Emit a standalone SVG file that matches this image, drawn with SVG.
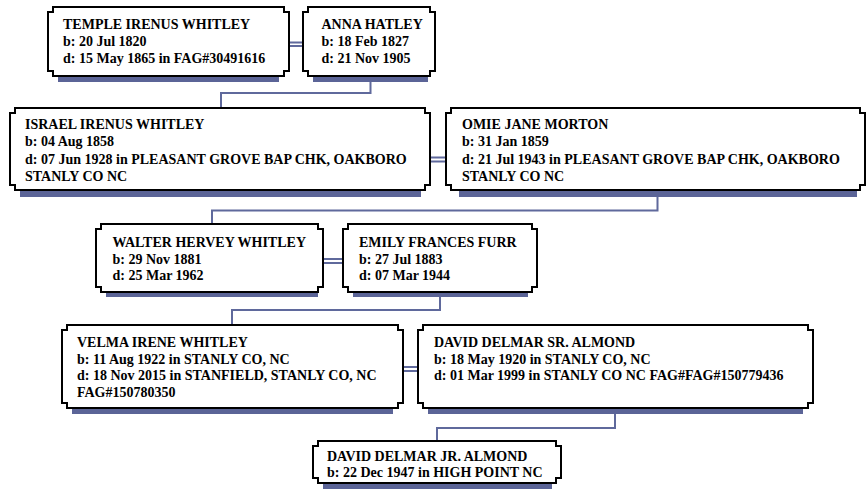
<svg xmlns="http://www.w3.org/2000/svg" width="867" height="493" viewBox="0 0 867 493">
<style>
.shadow{fill:#5b6497}
.box{fill:#fff;stroke:#000;stroke-width:2}
.conn{fill:none;stroke:#5f699c;stroke-width:2}
.marr{fill:none;stroke:#5f699c;stroke-width:1.8}
text{font-family:"Liberation Serif","Times New Roman",serif;font-weight:bold;font-size:14px;fill:#000}
</style>
<rect width="867" height="493" fill="#fff"/>
<g id="connectors">
<polyline class="conn" points="370.5,76 370.5,93 221,93 221,108"/>
<polyline class="conn" points="657.5,190 657.5,210.5 212,210.5 212,224"/>
<polyline class="conn" points="440,292 440,310 232,310 232,325"/>
<polyline class="conn" points="615,408 615,428 437,428 437,441"/>
<path class="marr" d="M289,42.5H303M289,46H303"/>
<path class="marr" d="M430,157.5H446M430,161.5H446"/>
<path class="marr" d="M323,259H343M323,263H343"/>
<path class="marr" d="M403,367H418M403,371H418"/>
</g>
<g id="temple">
<rect class="shadow" x="58" y="74" width="221" height="8"/>
<path class="box" d="M48,12H53V7H284V12H289V71H284V76H53V71H48Z"/>
<text x="63" y="29">TEMPLE IRENUS WHITLEY</text>
<text x="63" y="46">b: 20 Jul 1820</text>
<text x="63" y="63">d: 15 May 1865 in FAG#30491616</text>
</g>
<g id="anna">
<rect class="shadow" x="313" y="74" width="115" height="8"/>
<path class="box" d="M303,12H308V7H430V12H435V71H430V76H308V71H303Z"/>
<text x="321.5" y="29">ANNA HATLEY</text>
<text x="321.5" y="46">b: 18 Feb 1827</text>
<text x="321.5" y="63">d: 21 Nov 1905</text>
</g>
<g id="israel">
<rect class="shadow" x="20" y="188" width="401" height="9"/>
<path class="box" d="M10,113H15V108H425V113H430V185H425V190H15V185H10Z"/>
<text x="25" y="128.5">ISRAEL IRENUS WHITLEY</text>
<text x="25" y="146">b: 04 Aug 1858</text>
<text x="25" y="163.5">d: 07 Jun 1928 in PLEASANT GROVE BAP CHK, OAKBORO</text>
<text x="25" y="181">STANLY CO NC</text>
</g>
<g id="omie">
<rect class="shadow" x="459" y="188" width="398" height="9"/>
<path class="box" d="M446,113H451V108H860V113H865V185H860V190H451V185H446Z"/>
<text x="462" y="128.5">OMIE JANE MORTON</text>
<text x="462" y="146">b: 31 Jan 1859</text>
<text x="462" y="163.5">d: 21 Jul 1943 in PLEASANT GROVE BAP CHK, OAKBORO</text>
<text x="462" y="181">STANLY CO NC</text>
</g>
<g id="walter">
<rect class="shadow" x="106" y="290" width="212" height="7"/>
<path class="box" d="M96,229H101V224H318V229H323V287H318V292H101V287H96Z"/>
<text x="112.5" y="246.5">WALTER HERVEY WHITLEY</text>
<text x="112.5" y="263.5">b: 29 Nov 1881</text>
<text x="112.5" y="280">d: 25 Mar 1962</text>
</g>
<g id="emily">
<rect class="shadow" x="353" y="290" width="175" height="7"/>
<path class="box" d="M343,229H348V224H532V229H537V287H532V292H348V287H343Z"/>
<text x="359" y="246.5">EMILY FRANCES FURR</text>
<text x="359" y="263.5">b: 27 Jul 1883</text>
<text x="359" y="280">d: 07 Mar 1944</text>
</g>
<g id="velma">
<rect class="shadow" x="72" y="406" width="321" height="8"/>
<path class="box" d="M62,330H67V325H398V330H403V403H398V408H67V403H62Z"/>
<text x="77" y="347">VELMA IRENE WHITLEY</text>
<text x="77" y="363.5">b: 11 Aug 1922 in STANLY CO, NC</text>
<text x="77" y="380">d: 18 Nov 2015 in STANFIELD, STANLY CO, NC</text>
<text x="77" y="396.5">FAG#150780350</text>
</g>
<g id="david">
<rect class="shadow" x="428" y="406" width="375" height="8"/>
<path class="box" d="M418,330H423V325H808V330H813V403H808V408H423V403H418Z"/>
<text x="434" y="347">DAVID DELMAR SR. ALMOND</text>
<text x="434" y="363.5">b: 18 May 1920 in STANLY CO, NC</text>
<text x="434" y="380">d: 01 Mar 1999 in STANLY CO NC FAG#FAG#150779436</text>
</g>
<g id="djr">
<rect class="shadow" x="323" y="481" width="229" height="8"/>
<path class="box" d="M313,446H318V441H556V446H561V478H556V483H318V478H313Z"/>
<text x="327" y="461">DAVID DELMAR JR. ALMOND</text>
<text x="327" y="477">b: 22 Dec 1947 in HIGH POINT NC</text>
</g>
</svg>
